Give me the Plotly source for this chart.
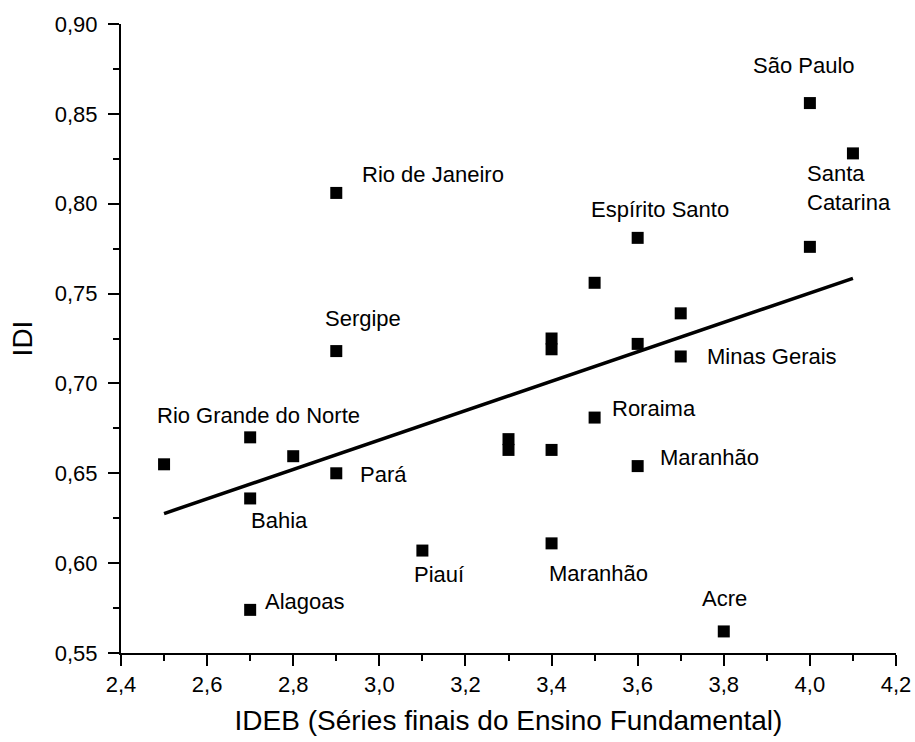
import plotly.graph_objects as go

# IDEB (final grades of elementary school) vs IDI, by Brazilian state
ideb = [2.5, 2.7, 2.8, 2.9, 2.7, 3.1, 2.7,
        3.3, 3.3, 3.4, 3.5, 3.6, 3.4, 3.8,
        2.9, 2.9, 4.0, 4.1, 4.0, 3.6, 3.5, 3.7, 3.4, 3.4, 3.6, 3.7]
idi = [0.655, 0.670, 0.6595, 0.650, 0.636, 0.607, 0.574,
       0.669, 0.663, 0.663, 0.681, 0.654, 0.611, 0.562,
       0.806, 0.718, 0.856, 0.828, 0.776, 0.781, 0.756, 0.739, 0.725, 0.719, 0.722, 0.715]
state = ["", "Rio Grande do Norte", "", "Pará", "Bahia", "Piauí", "Alagoas",
         "", "", "", "Roraima", "Maranhão", "Maranhão", "Acre",
         "Rio de Janeiro", "Sergipe", "São Paulo", "Santa<br>Catarina", "", "Espírito Santo",
         "", "", "", "", "", "Minas Gerais"]

# Linear trend line endpoints
trend_x = [2.5, 4.1]
trend_y = [0.6276, 0.7585]

x_ticks = [2.4, 2.6, 2.8, 3.0, 3.2, 3.4, 3.6, 3.8, 4.0, 4.2]
y_ticks = [0.55, 0.60, 0.65, 0.70, 0.75, 0.80, 0.85, 0.90]

# label placement: (xanchor, xshift, yshift) in pixels relative to the marker
label_offsets = {
    "Rio Grande do Norte": ("center", 8, 22),
    "Pará": ("left", 22, -1),
    "Bahia": ("left", -1, -22),
    "Piauí": ("left", -10, -24),
    "Alagoas": ("left", 13, 8),
    "Roraima": ("left", 15, 9),
    "Maranhão": ("left", 20, 9),
    "Acre": ("center", 1, 33),
    "Rio de Janeiro": ("left", 24, 18),
    "Sergipe": ("center", 27, 33),
    "São Paulo": ("center", -6, 38),
    "Santa<br>Catarina": ("left", -48, -35),
    "Espírito Santo": ("center", 22, 28),
    "Minas Gerais": ("left", 24, 0),
}
low_maranhao = ("left", -5, -30)

FONT = "Liberation Sans, Arial, sans-serif"

fig = go.Figure()
fig.add_trace(go.Scatter(
    x=trend_x, y=trend_y, mode="lines",
    line=dict(color="black", width=3.5), showlegend=False, hoverinfo="skip",
))
fig.add_trace(go.Scatter(
    x=ideb, y=idi, mode="markers",
    marker=dict(symbol="square", size=12, color="black", line=dict(width=0)),
    showlegend=False,
))

for xv, yv, name in zip(ideb, idi, state):
    if not name:
        continue
    anchor, dx, dy = label_offsets[name]
    if name == "Maranhão" and xv == 3.4:
        anchor, dx, dy = low_maranhao
    fig.add_annotation(
        x=xv, y=yv, xref="x", yref="y", text=name, showarrow=False,
        xanchor=anchor, yanchor="middle", xshift=dx, yshift=dy,
        align="left", font=dict(family=FONT, size=22, color="black"),
    )

axis_common = dict(
    showline=True, linecolor="black", linewidth=2,
    ticks="outside", ticklen=11, tickwidth=2, tickcolor="black",
    showgrid=False, zeroline=False, mirror=False, automargin=False,
    tickfont=dict(family=FONT, size=22, color="black"),
    minor=dict(ticks="outside", ticklen=6, tickwidth=2, tickcolor="black", showgrid=False),
)

fig.update_xaxes(
    range=[2.4, 4.2], tickvals=x_ticks,
    ticktext=[f"{v:.1f}".replace(".", ",") for v in x_ticks],
    minor_dtick=0.1, minor_tick0=2.4,
    title=dict(text="IDEB (Séries finais do Ensino Fundamental)",
               font=dict(family=FONT, size=28, color="black"), standoff=14),
    **axis_common,
)
fig.update_yaxes(
    range=[0.55, 0.90], tickvals=y_ticks,
    ticktext=[f"{v:.2f}".replace(".", ",") for v in y_ticks],
    minor_dtick=0.025, minor_tick0=0.55, ticklabelstandoff=6,
    title=dict(text="IDI", font=dict(family=FONT, size=28, color="black"), standoff=14),
    **axis_common,
)

fig.update_layout(
    width=915, height=742,
    margin=dict(l=121, r=19, t=24, b=89),
    plot_bgcolor="white", paper_bgcolor="white",
)

fig.write_html("out.html")
